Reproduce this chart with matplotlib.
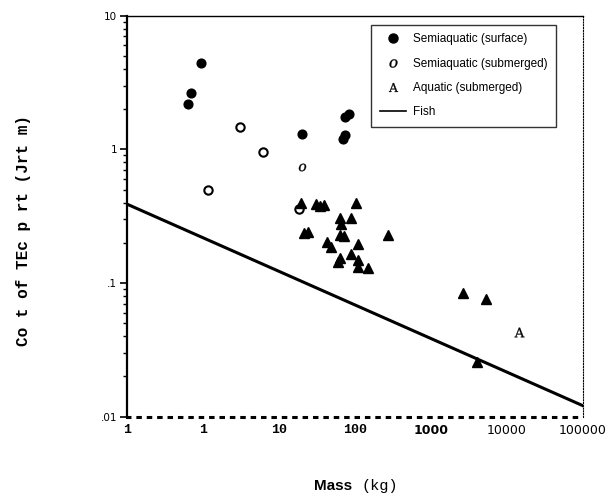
import matplotlib
matplotlib.use('Agg')
import matplotlib.pyplot as plt
from matplotlib.lines import Line2D

plt.rcParams['mathtext.fontset'] = 'dejavuserif'

# semiaquatic, surface swimming (filled circles)
surf_mass = [0.94, 0.695, 0.648, 20.1, 73.9, 83.4, 69.5, 75.2]
surf_cost = [4.40, 2.62, 2.17, 1.30, 1.75, 1.83, 1.19, 1.27]

# semiaquatic, submerged (open circles) + one point printed as a letter
sub_mass = [3.10, 6.27, 1.19, 18.7]
sub_cost = [1.46, 0.96, 0.50, 0.356]
sub_glyph_mass = [20.5]
sub_glyph_cost = [0.74]

# aquatic, submerged (triangles) + one point printed as a letter
aq_mass = [19.6, 31.0, 34.9, 39.5, 104, 64.1, 88.5, 66.0, 21.5, 24.3, 64.1, 73.0,
           277, 42.8, 48.3, 110, 88.5, 64.1, 60.8, 110, 110, 151, 2637, 5295, 4030]
aq_cost = [0.40, 0.39, 0.377, 0.383, 0.394, 0.305, 0.308, 0.275, 0.237, 0.240, 0.229, 0.225,
           0.229, 0.204, 0.187, 0.196, 0.165, 0.153, 0.144, 0.149, 0.132, 0.129, 0.0845, 0.0758, 0.0255]
aq_glyph_mass = [14650]
aq_glyph_cost = [0.0427]

# fish regression line
fish_mass = [0.1, 100000]
fish_cost = [0.39, 0.0121]

xtick_vals = [0.1, 1, 10, 100, 1000, 10000, 100000]
xtick_labels = ['1', '1', '10', '100', '1000', '10000', '100000']
ytick_vals = [0.01, 0.1, 1, 10]
ytick_labels = ['.01', '.1', '1', '10']

fig = plt.figure(figsize=(6.08, 4.96), dpi=100)
ax = fig.add_axes([0.2084, 0.1599, 0.75, 0.8085])
ax.set_xscale('log')
ax.set_yscale('log')
ax.set_xlim(0.1, 100000)
ax.set_ylim(0.01, 10)

ax.plot(fish_mass, fish_cost, color='black', lw=2.2, zorder=2)
ax.plot(surf_mass, surf_cost, 'o', color='black', ms=6.3, ls='none', zorder=3)
ax.plot(sub_mass, sub_cost, 'o', mfc='white', mec='black', mew=1.5, ms=6, ls='none', zorder=3)
ax.plot(sub_glyph_mass, sub_glyph_cost, marker='$o$', color='black', ms=5.5, mew=0.2,
        ls='none', zorder=3)
ax.plot(aq_mass, aq_cost, '^', color='black', ms=7, ls='none', zorder=3)
ax.plot(aq_glyph_mass, aq_glyph_cost, marker=r'$\mathrm{A}$', color='black', ms=7, mew=0.2,
        ls='none', zorder=3)

ax.set_xticks(xtick_vals, xtick_labels)
ax.set_yticks(ytick_vals, ytick_labels)
ax.xaxis.set_minor_locator(matplotlib.ticker.NullLocator())
ax.tick_params(axis='x', which='major', length=0, pad=5, labelsize=9.5)
ax.tick_params(axis='y', which='major', direction='out', length=5, width=1.2, labelsize=7.5, pad=2)
ax.tick_params(axis='y', which='minor', direction='out', length=3, width=1)
ax.yaxis.set_minor_formatter(matplotlib.ticker.NullFormatter())

for i, lab in enumerate(ax.get_xticklabels()):
    if i < 4:
        lab.set_fontfamily('Liberation Mono')
        lab.set_fontweight('bold')
    elif i == 4:
        lab.set_fontfamily('DejaVu Sans')
        lab.set_fontweight('bold')
        lab.set_fontsize(9)
    else:
        lab.set_fontfamily('DejaVu Sans')
        lab.set_fontsize(9)

ax.spines['left'].set_linewidth(1.6)
ax.spines['top'].set_linewidth(1.0)
ax.spines['right'].set_linewidth(0.8)
ax.spines['right'].set_linestyle((0, (1, 1.5)))
ax.spines['bottom'].set_linewidth(2.2)
ax.spines['bottom'].set_linestyle((0, (0.8, 2.6)))
ax.axhline(0.01, color='0.75', lw=0.6, zorder=1)

handles = [
    Line2D([], [], marker='o', color='black', ls='none', ms=6.5),
    Line2D([], [], marker='$o$', color='black', ls='none', ms=6, mew=0.2),
    Line2D([], [], marker=r'$\mathrm{A}$', color='black', ls='none', ms=6.5, mew=0.2),
    Line2D([], [], color='black', lw=1.2),
]
labels = ['Semiaquatic (surface)', 'Semiaquatic (submerged)', 'Aquatic (submerged)', 'Fish']
leg = fig.legend(handles, labels, loc='upper left', bbox_to_anchor=(0.611, 0.9496),
                 prop={'family': 'Liberation Sans', 'size': 8.5}, frameon=True, fancybox=False,
                 edgecolor='black', borderpad=0.7, labelspacing=1.05, handlelength=2.2,
                 handletextpad=0.6, borderaxespad=0)
leg.get_frame().set_linewidth(1.0)

fig.text(0.038, 0.535, 'Co t of TEc p rt (Jrt m)', rotation=90, ha='center', va='center',
         family='Liberation Mono', fontweight='bold', fontsize=11.5)
fig.text(352 / 608, 0.02, 'Mass', ha='right', va='center', family='Liberation Sans',
         fontweight='bold', fontsize=11)
fig.text(362 / 608, 0.02, '(kg)', ha='left', va='center', family='Liberation Mono', fontsize=11)

fig.savefig('out.png', dpi=100)
